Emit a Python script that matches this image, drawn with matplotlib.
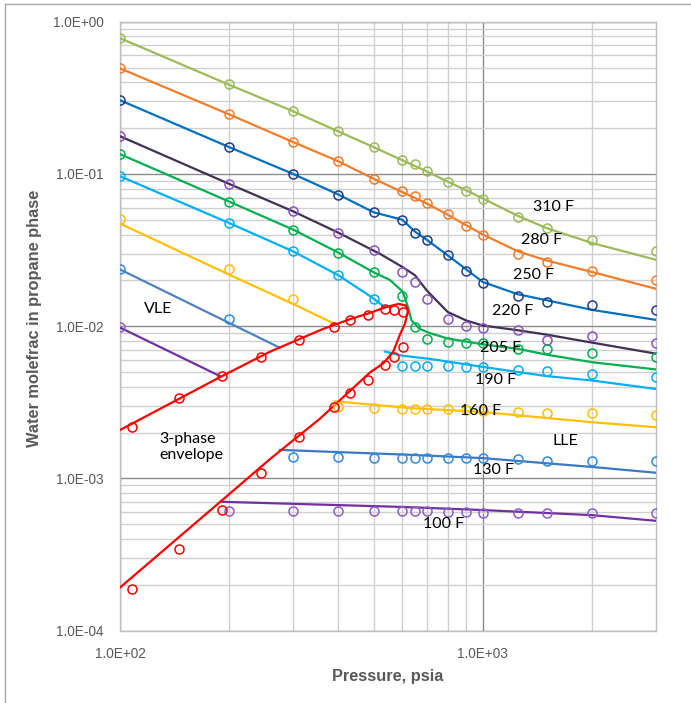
import matplotlib.pyplot as plt
from matplotlib.ticker import FixedLocator, FuncFormatter, NullFormatter
from matplotlib.lines import Line2D

# pressures of the measured points, psia
p_data = [100, 200, 300, 400, 500, 600, 650, 700, 800, 900, 1000, 1250, 1500, 2000, 3000]

# measured water molefrac (markers)
x310 = [.778, .388, .260, .191, .150, .123, .116, .105, .0886, .0778, .0682, .0522, .0441, .0366, .0311]
x280 = [.494, .246, .162, .121, .0933, .0769, .0717, .0648, .0549, .0457, .0395, .0299, .0264, .0230, .0202]
x250 = [.305, .150, .100, .0732, .0560, .0501, .0411, .0370, .0292, .0232, .0192, .0158, .0145, .0138, .0128]
x220 = [.177, .0860, .0568, .0411, .0318, .0227, .0195, .0151, .0112, .0100, .0097, .0095, .0081, .0086, .0078]
x205 = [.135, .0658, .0431, .0304, .0226, .0157, .0099, .0083, .0079, .0077, .0077, .0071, .0071, .0067, .00625]

p190_vle = [100, 200, 300, 400, 500]
x190_vle = [.0966, .0476, .0310, .0216, .0150]
p190_lle = [600, 650, 700, 800, 900, 1000, 1250, 1500, 2000, 3000]
x190_lle = [.00551, .00551, .00545, .00545, .0054, .00537, .00516, .00505, .00488, .00465]

p160_vle = [100, 200, 300]
x160_vle = [.0509, .0239, .0150]
p160_lle = [400, 500, 600, 650, 700, 800, 900, 1000, 1250, 1500, 2000, 3000]
x160_lle = [.00293, .00291, .00284, .00284, .00284, .00284, .0028, .00278, .00275, .00271, .00268, .00263]

p130_vle = [100, 200]
x130_vle = [.0236, .0111]
p130_lle = [300, 400, 500, 600, 650, 700, 800, 900, 1000, 1250, 1500, 2000, 3000]
x130_lle = [.00139, .00139, .00137, .00137, .00137, .00137, .00137, .00136, .00136, .00134, .00131, .00131, .00131]

p100_vle = [100]
x100_vle = [.00985]
p100_lle = [200, 300, 400, 500, 600, 650, 700, 800, 900, 1000, 1250, 1500, 2000, 3000]
x100_lle = [.000607, .000607, .000607, .000607, .000607, .000607, .000607, .0006, .0006, .000595, .000595, .000595, .000595, .000595]

# 3-phase measured points
p3 = [108, 145, 191, 245, 311, 389, 430, 482, 539, 568, 601]
x3_vap = [.00219, .00338, .00469, .00632, .00814, .00985, .0110, .0119, .0130, .0127, .0124]
x3_liq = [.000187, .000346, .00062, .00109, .00186, .00293, .00364, .00444, .0056, .0063, .00728]

# model curves
mp310 = [100, 200, 300, 400, 500, 600, 700, 800, 900, 1000, 1250, 1500, 2000, 3000]
mx310 = [.78, .385, .258, .19, .15, .123, .104, .089, .078, .069, .053, .044, .0352, .0273]
mp280 = [100, 200, 300, 400, 500, 600, 700, 800, 900, 1000, 1250, 1500, 2000, 3000]
mx280 = [.494, .246, .162, .121, .093, .076, .064, .054, .046, .040, .031, .027, .0227, .0176]
mp250 = [100, 200, 300, 400, 500, 600, 650, 700, 800, 900, 1000, 1250, 1500, 2000, 3000]
mx250 = [.305, .150, .100, .0732, .056, .050, .0418, .037, .0292, .0236, .0195, .0162, .0148, .0128, .0110]
mp220 = [100, 200, 300, 400, 520, 600, 650, 700, 800, 900, 1000, 1250, 1500, 2000, 3000]
mx220 = [.177, .086, .0568, .0411, .0299, .0245, .0216, .0172, .0124, .0109, .0101, .0094, .0088, .0078, .0066]
mp205 = [100, 200, 300, 400, 500, 555, 602, 622, 636, 670, 715, 800, 1000, 1250, 1500, 2000, 3000]
mx205 = [.135, .0658, .0431, .0304, .0226, .0201, .0168, .0133, .0109, .0096, .0090, .0083, .0076, .0071, .0065, .0058, .0052]
mp190_vle = [100, 200, 300, 400, 500, 537]
mx190_vle = [.0966, .0476, .0310, .0216, .0152, .0133]
mp190_lle = [537, 600, 715, 1000, 1500, 2000, 3000]
mx190_lle = [.00682, .0064, .0061, .0054, .0047, .0044, .00387]
mp160_vle = [100, 200, 300, 389]
mx160_vle = [.0472, .0218, .0140, .0104]
mp160_lle = [391, 630, 1000, 2000, 3000]
mx160_lle = [.00321, .0029, .00273, .00234, .00217]
mp130_vle = [100, 276]
mx130_vle = [.0236, .00721]
mp130_lle = [276, 630, 1000, 2000, 3000]
mx130_lle = [.00154, .00143, .00136, .00119, .00109]
mp100_vle = [100, 189]
mx100_vle = [.0098, .00469]
mp100_lle = [189, 600, 1000, 2000, 3000]
mx100_lle = [.000703, .00065, .00062, .000574, .000527]

# 3-phase envelope: liquid branch up to the nose, then vapour branch back
mp3 = [100, 189, 259, 355, 489, 532, 566, 591, 610, 622, 612, 585, 539, 482, 430, 363, 259, 191, 100]
mx3 = [.000192, .000703, .00134, .00246, .00498, .0057, .0068, .0088, .0104, .0127, .0137, .0140,
       .0133, .0121, .0111, .0096, .0068, .0047, .00208]

c310, c280, c205, c190, c160, cred = '#9BBB59', '#F07D2A', '#00B050', '#00B0F0', '#FFC000', '#FF0000'

fig = plt.figure(figsize=(6.91, 7.03), dpi=100)
ax = fig.add_axes([120 / 691, 1 - 630.7 / 703, 536 / 691, 609 / 703])


def curve(p, x, color):
    ax.plot(p, x, '-', color=color, lw=1.6, zorder=3)


def dots(p, x, color):
    ax.plot(p, x, 'o', mfc='none', mec=color, ms=6.5, mew=1.1, zorder=4)


curve(mp310, mx310, c310); dots(p_data, x310, c310)
curve(mp280, mx280, c280); dots(p_data, x280, c280)
curve(mp250, mx250, '#0070C0'); dots(p_data, x250, '#1F3C88')
curve(mp220, mx220, '#403152'); dots(p_data, x220, '#8E4FC8')
curve(mp205, mx205, c205); dots(p_data, x205, c205)
curve(mp190_vle, mx190_vle, c190); curve(mp190_lle, mx190_lle, c190)
dots(p190_vle, x190_vle, c190); dots(p190_lle, x190_lle, c190)
curve(mp160_vle, mx160_vle, c160); curve(mp160_lle, mx160_lle, c160)
dots(p160_vle, x160_vle, c160); dots(p160_lle, x160_lle, c160)
curve(mp130_vle, mx130_vle, '#4F81BD'); curve(mp130_lle, mx130_lle, '#3E78C2')
dots(p130_vle, x130_vle, '#2E8BE0'); dots(p130_lle, x130_lle, '#2E8BE0')
curve(mp100_vle, mx100_vle, '#7030A0'); curve(mp100_lle, mx100_lle, '#7030A0')
dots(p100_vle, x100_vle, '#8E5CC8'); dots(p100_lle, x100_lle, '#8E5CC8')
curve(mp3, mx3, cred)
dots(p3, x3_vap, cred); dots(p3, x3_liq, cred)

ax.set_xscale('log')
ax.set_yscale('log')
ax.set_xlim(100, 3000)
ax.set_ylim(1e-4, 1)

fmt = FuncFormatter(lambda v, pos: f'{v:.1E}')
ax.xaxis.set_major_locator(FixedLocator([100, 1000]))
ax.yaxis.set_major_locator(FixedLocator([1e-4, 1e-3, 1e-2, 1e-1, 1]))
ax.xaxis.set_major_formatter(fmt)
ax.yaxis.set_major_formatter(fmt)
ax.xaxis.set_minor_locator(FixedLocator([200, 300, 400, 500, 600, 700, 800, 900, 2000]))
ax.yaxis.set_minor_locator(FixedLocator([m * 10.0 ** e for e in range(-4, 0) for m in range(2, 10)]))
ax.xaxis.set_minor_formatter(NullFormatter())
ax.yaxis.set_minor_formatter(NullFormatter())
ax.tick_params(which='both', length=0, labelsize=9.8, colors='#595959', pad=12)
for lab in ax.get_xticklabels() + ax.get_yticklabels():
    lab.set_family(['Liberation Sans', 'DejaVu Sans'])

ax.grid(True, which='major', color='#8C8C8C', lw=1.0, zorder=0)
ax.grid(True, which='minor', color='#D0D0D0', lw=1.0, zorder=0)
ax.set_axisbelow(True)
for s in ax.spines.values():
    s.set_color('#BFBFBF')
    s.set_linewidth(1.0)

lab_font = dict(family=['Liberation Sans', 'DejaVu Sans'], fontsize=11.8, fontweight='bold', color='#595959')
fig.text(388 / 691, 1 - 676 / 703, 'Pressure, psia', ha='center', va='center', **lab_font)
fig.text(35 / 691, 1 - 318 / 703, 'Water molefrac in propane phase', ha='center', va='center',
         rotation=90, **lab_font)

notes = [('310 F', 0.808, 0.696), ('280 F', 0.787, 0.642), ('250 F', 0.771, 0.584),
         ('220 F', 0.733, 0.525), ('205 F', 0.710, 0.464), ('190 F', 0.700, 0.412),
         ('160 F', 0.673, 0.360), ('LLE', 0.830, 0.312), ('130 F', 0.697, 0.264),
         ('100 F', 0.603, 0.176), ('VLE', 0.072, 0.528)]
for t, xf, yf in notes:
    ax.text(xf, yf, t, transform=ax.transAxes, ha='center', va='center',
            family='Lato', fontsize=11.5, color='black', zorder=6)
ax.text(0.074, 0.302, '3-phase\nenvelope', transform=ax.transAxes, ha='left', va='center',
        family='Lato', fontsize=11.5, color='black', linespacing=1.2, zorder=6)

# outer chart border (left and top edges visible)
fig.add_artist(Line2D([5 / 691, 5 / 691], [0, 1 - 4 / 703], color='#A6A6A6', lw=1.0))
fig.add_artist(Line2D([5 / 691, 1], [1 - 4 / 703, 1 - 4 / 703], color='#A6A6A6', lw=1.0))

fig.savefig('out.png', dpi=100)
